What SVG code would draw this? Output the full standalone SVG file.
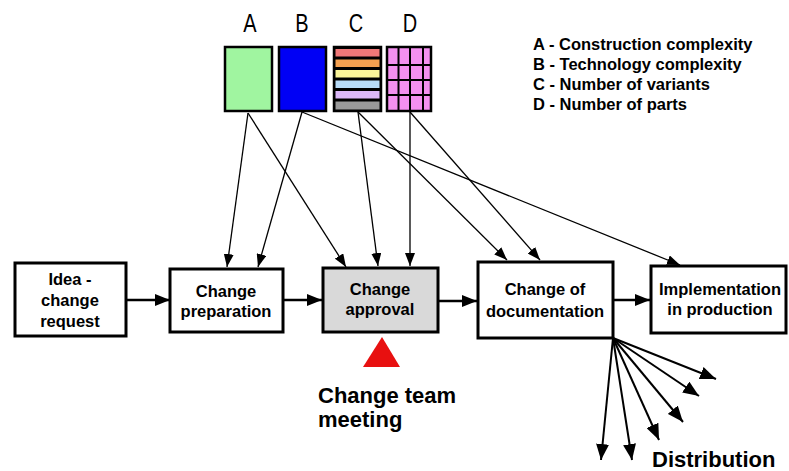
<svg xmlns="http://www.w3.org/2000/svg" width="789" height="471" viewBox="0 0 789 471">
  <style>
    text { font-family: "Liberation Sans", Arial, sans-serif; fill: #000; }
    .box { fill: #fff; stroke: #000; stroke-width: 3; }
    .grey { fill: #d9d9d9; }
    .lbl { font-size: 16.5px; font-weight: bold; text-anchor: middle; }
    .big { font-size: 22px; font-weight: bold; }
    .key { font-size: 16.5px; font-weight: bold; }
    .letter { font-size: 25px; text-anchor: middle; }
    .sq { stroke: #000; stroke-width: 2.5; }
    .flow { fill: none; stroke: #000; stroke-width: 2.5; marker-end: url(#headL); }
    .link { fill: none; stroke: #000; stroke-width: 1.3; marker-end: url(#headS); }
    .fan { fill: none; stroke: #000; stroke-width: 2; marker-end: url(#headF); }
  </style>
  <defs>
    <marker id="headL" markerUnits="userSpaceOnUse" markerWidth="15" markerHeight="12" refX="15" refY="6" orient="auto">
      <path d="M0,0 L15,6 L0,12 z" fill="#000"/>
    </marker>
    <marker id="headF" markerUnits="userSpaceOnUse" markerWidth="16" markerHeight="13" refX="16" refY="6.5" orient="auto">
      <path d="M0,0 L16,6.5 L0,13 z" fill="#000"/>
    </marker>
    <marker id="headS" markerUnits="userSpaceOnUse" markerWidth="13" markerHeight="10" refX="13" refY="5" orient="auto">
      <path d="M0,0 L13,5 L0,10 z" fill="#000"/>
    </marker>
  </defs>

  <rect width="789" height="471" fill="#fff"/>

  <!-- factor squares -->
  <g id="factor-a">
    <text class="letter" transform="translate(250,32) scale(0.8,1)">A</text>
    <rect class="sq" x="225" y="47" width="47" height="64" fill="#a0f5a0"/>
  </g>
  <g id="factor-b">
    <text class="letter" transform="translate(302,32) scale(0.8,1)">B</text>
    <rect class="sq" x="279" y="47" width="47" height="64" fill="#0000f5"/>
  </g>
  <g id="factor-c">
    <text class="letter" transform="translate(356,32) scale(0.8,1)">C</text>
    <rect class="sq" x="334" y="47" width="47" height="64" fill="#000"/>
    <rect x="335.5" y="49" width="44" height="7.5" fill="#f07878"/>
    <rect x="335.5" y="59.5" width="44" height="7.5" fill="#f4a050"/>
    <rect x="335.5" y="70" width="44" height="7.5" fill="#fbf59a"/>
    <rect x="335.5" y="80.5" width="44" height="7.5" fill="#b8dcf8"/>
    <rect x="335.5" y="91" width="44" height="7.5" fill="#dcb8f8"/>
    <rect x="335.5" y="101.5" width="44" height="8" fill="#9a9a9a"/>
  </g>
  <g id="factor-d">
    <text class="letter" transform="translate(410,32) scale(0.8,1)">D</text>
    <rect class="sq" x="387" y="47" width="44" height="64" fill="#f490f0"/>
    <path d="M398.5,47 V111 M410,47 V111 M423,47 V111 M387,65 H431 M387,80 H431 M387,95 H431" stroke="#000" stroke-width="2"/>
  </g>

  <!-- key -->
  <g id="legend">
    <text class="key" x="533" y="50">A - Construction complexity</text>
    <text class="key" x="533" y="70">B - Technology complexity</text>
    <text class="key" x="533" y="90">C - Number of variants</text>
    <text class="key" x="533" y="110">D - Number of parts</text>
  </g>

  <!-- process steps -->
  <g id="idea">
    <rect class="box" x="15" y="263" width="111" height="73"/>
    <text class="lbl" x="70" y="285">Idea -</text>
    <text class="lbl" x="70" y="306">change</text>
    <text class="lbl" x="70" y="327">request</text>
  </g>
  <g id="preparation">
    <rect class="box" x="170" y="269" width="113" height="63"/>
    <text class="lbl" x="226" y="297">Change</text>
    <text class="lbl" x="226" y="317">preparation</text>
  </g>
  <g id="approval">
    <rect class="box grey" x="323" y="268" width="115" height="64"/>
    <text class="lbl" x="380" y="295">Change</text>
    <text class="lbl" x="380" y="315">approval</text>
  </g>
  <g id="documentation">
    <rect class="box" x="478" y="262" width="135" height="76"/>
    <text class="lbl" x="545" y="295">Change of</text>
    <text class="lbl" x="545" y="317">documentation</text>
  </g>
  <g id="implementation">
    <rect class="box" x="651" y="266" width="135" height="67"/>
    <text class="lbl" x="720" y="295">Implementation</text>
    <text class="lbl" x="720" y="315">in production</text>
  </g>

  <g id="meeting">
    <polygon points="382,337 400,367 363,367" fill="#e81010"/>
    <text class="big" x="318" y="403">Change team</text>
    <text class="big" x="318" y="427">meeting</text>
  </g>

  <g id="distribution-label">
    <text class="big" x="652" y="467">Distribution</text>
  </g>

  <!-- connectors -->
  <g id="connectors">
    <path class="flow" d="M126,300 H170"/>
    <path class="flow" d="M283,300 H322"/>
    <path class="flow" d="M438,301 H477"/>
    <path class="flow" d="M613,300 H650"/>

    <path class="link" d="M248,113 L227,267"/>
    <path class="link" d="M248,113 L346,267"/>
    <path class="link" d="M302,112 L258,267"/>
    <path class="link" d="M302,112 L680,265"/>
    <path class="link" d="M358,112 L378,266"/>
    <path class="link" d="M358,112 L507,260"/>
    <path class="link" d="M410,112 L410,266"/>
    <path class="link" d="M410,112 L540,260"/>

    <path class="fan" d="M613,338 L601,460"/>
    <path class="fan" d="M613,338 L632,460"/>
    <path class="fan" d="M613,338 L659,440"/>
    <path class="fan" d="M613,338 L683,422"/>
    <path class="fan" d="M613,338 L699,396"/>
    <path class="fan" d="M613,338 L716,379"/>
  </g>
</svg>
